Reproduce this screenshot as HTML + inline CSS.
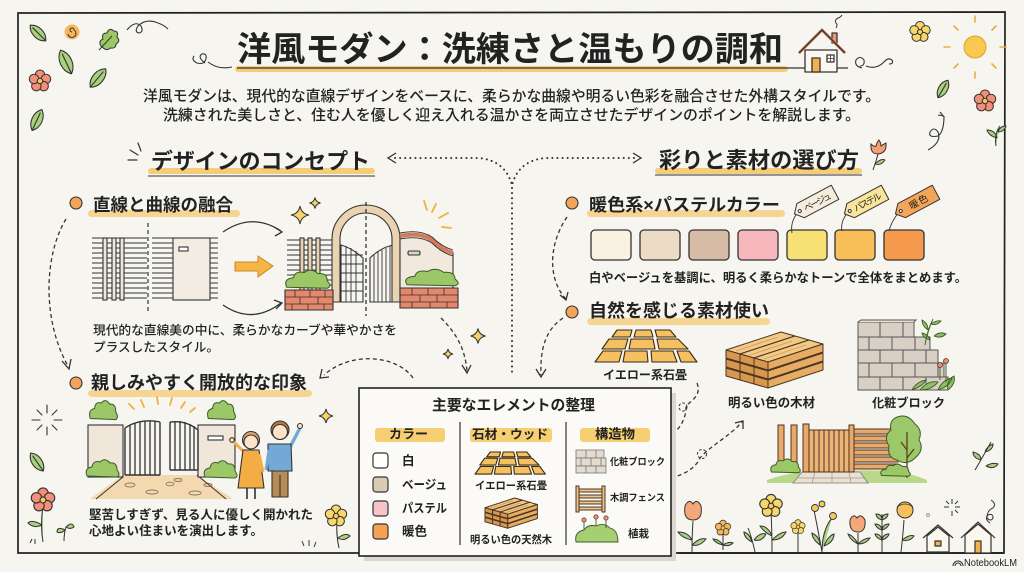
<!DOCTYPE html>
<html><head><meta charset="utf-8">
<style>
html,body{margin:0;padding:0;background:#f6f5f0;}
svg{display:block}
text{font-family:"Liberation Sans","Noto Sans CJK JP",sans-serif;fill:#222;}
.b{font-weight:700}
.m{font-weight:500}
</style></head><body>
<svg width="1024" height="572" viewBox="0 0 1024 572" xmlns="http://www.w3.org/2000/svg">
<defs>
 <g id="fl" stroke="#333" stroke-width="1"><circle cx="0" cy="-6" r="4.5"/><circle cx="5.7" cy="-1.9" r="4.5"/><circle cx="3.5" cy="4.9" r="4.5"/><circle cx="-3.5" cy="4.9" r="4.5"/><circle cx="-5.7" cy="-1.9" r="4.5"/><circle r="2.6" fill="#f7c95c"/></g>
 <path id="lf" d="M0,-10 C6,-5 6,5 0,10 C-6,5 -6,-5 0,-10Z M0,-7 L0,10" stroke="#333" stroke-width="1.1" vector-effect="non-scaling-stroke"/>
 <path id="st" d="M0,-10 Q1.5,-1.5 10,0 Q1.5,1.5 0,10 Q-1.5,1.5 -10,0 Q-1.5,-1.5 0,-10Z" stroke="#333" stroke-width="1" vector-effect="non-scaling-stroke"/>
 <path id="bu" d="M-15,5 Q-18,-3 -10,-4 Q-9,-11 -2,-9 Q3,-14 8,-8 Q15,-9 15,-1 Q19,4 15,6 Z" fill="#9cc766" stroke="#3d5a2a" stroke-width="1" vector-effect="non-scaling-stroke"/>
 <g id="pk" stroke="#4a3520" stroke-width="1" stroke-linejoin="round">
  <polygon points="0,0 55,-18 69,-14 14,4" fill="#f2c987" vector-effect="non-scaling-stroke"/>
  <polygon points="14,4 69,-14 69,-6 14,12" fill="#e6ac63" vector-effect="non-scaling-stroke"/>
  <polygon points="0,0 14,4 14,12 0,8" fill="#d8974e" vector-effect="non-scaling-stroke"/>
  <path d="M10,1 L52,-13" stroke="#c08a4a" stroke-width="0.6" vector-effect="non-scaling-stroke"/>
 </g>
 <g id="stones" fill="#f4c062" stroke="#3a2a10" stroke-width="1.1" stroke-linejoin="round">
  <polygon points="612,337 617,330 632,330 630,337" vector-effect="non-scaling-stroke"/>
  <polygon points="634,337 636,330 651,330 653,337" vector-effect="non-scaling-stroke"/>
  <polygon points="657,337 655,330 670,330 676,337" vector-effect="non-scaling-stroke"/>
  <polygon points="602,349 609,339 628,339 625,349" vector-effect="non-scaling-stroke"/>
  <polygon points="629,349 631,339 653,339 655,349" vector-effect="non-scaling-stroke"/>
  <polygon points="659,349 657,339 678,339 688,349" vector-effect="non-scaling-stroke"/>
  <polygon points="595,362 603,351 622,351 619,362" vector-effect="non-scaling-stroke"/>
  <polygon points="623,362 625,351 647,351 648,362" vector-effect="non-scaling-stroke"/>
  <polygon points="652,362 651,351 673,351 677,362" vector-effect="non-scaling-stroke"/>
  <polygon points="681,362 677,351 689,351 697,362" vector-effect="non-scaling-stroke"/>
 </g>
 <g id="wood">
  <use href="#pk" transform="translate(726,368)"/><use href="#pk" transform="translate(740,372)"/><use href="#pk" transform="translate(754,376)"/>
  <use href="#pk" transform="translate(726,359)"/><use href="#pk" transform="translate(740,363)"/><use href="#pk" transform="translate(754,367)"/>
  <use href="#pk" transform="translate(726,350)"/><use href="#pk" transform="translate(740,354)"/><use href="#pk" transform="translate(754,358)"/>
 </g>
</defs>

<rect width="1024" height="572" fill="#f6f5f0"/>
<path d="M18 13 L1005 12 L1004 553 L18 553 Z" fill="none" stroke="#222" stroke-width="1.7"/>

<!-- top-left decorations -->
<use href="#lf" transform="translate(38,33) rotate(-45) scale(1.1)" fill="#a9cf7f"/>
<circle cx="72" cy="32" r="7.5" fill="#f7b55c"/>
<path d="M72,32 a2,2 0 1 1 2,-2 a4,4 0 1 1 -6,4" fill="none" stroke="#333" stroke-width="1"/>
<path d="M101,46 q-3,-5 2,-7 q-2,-6 4,-6 q2,-6 7,-2 q5,0 3,6 q4,4 -1,7 q0,5 -6,4 q-3,4 -9,-2z M99,50 L112,36" fill="#9cc766" stroke="#333" stroke-width="1"/>
<path d="M127,30 q8,-10 14,-4 q3,6 -2,7 q-5,-1 -1,-7 q8,-8 20,-3 q6,2 10,6" fill="none" stroke="#333" stroke-width="1.1"/>
<use href="#lf" transform="translate(66,62) rotate(-25) scale(1.3)" fill="#a9cf7f"/>
<use href="#fl" transform="translate(40,81) scale(1.05)" fill="#f28f78"/>
<use href="#lf" transform="translate(98,78) rotate(40) scale(1.2)" fill="#a9cf7f"/>
<use href="#lf" transform="translate(37,120) rotate(25) scale(1.15)" fill="#a9cf7f"/>
<path d="M205,63 q-8,-6 -3,-9 q5,-1 4,5 q-2,6 -9,4 q-6,-3 -3,-7" fill="none" stroke="#333" stroke-width="1.1"/>
<path d="M208,62 q10,8 24,5" fill="none" stroke="#333" stroke-width="1.1"/>

<!-- title -->
<rect x="235" y="66" width="553" height="6" rx="3" fill="#f5cd78"/>
<path d="M237,68 L848,68" stroke="#333" stroke-width="1.2"/>
<text x="237" y="61" font-size="34" class="b" textLength="546" lengthAdjust="spacingAndGlyphs">洋風モダン：洗練さと温もりの調和</text>

<!-- house -->
<g stroke="#333" stroke-width="1.3" stroke-linejoin="round">
 <rect x="805" y="50" width="32" height="22" fill="#fbf7ee"/>
 <rect x="832" y="33" width="5" height="10" fill="#e89a7a"/>
 <path d="M799,53 L822,30 L845,53" fill="none" stroke="#d9805e" stroke-width="3"/>
 <path d="M799,53 L822,30 L845,53" fill="none"/>
 <rect x="812" y="58" width="8" height="14" fill="#f4b04a"/>
 <rect x="827" y="55" width="7" height="7" fill="#fff"/>
 <path d="M830.5,55 v7 M827,58.5 h7" stroke-width="0.8"/>
 <path d="M836,28 q2,-3 0,-5 q-2,-3 2,-5 q3,-1 4,-3" fill="none" stroke-width="1"/>
</g>
<path d="M862,68 q-8,-2 -6,-8 q4,-5 8,0 q1,6 -4,6 M866,66 q10,4 18,-4 q4,-5 8,-2 q2,4 -3,4" fill="none" stroke="#333" stroke-width="1.1"/>

<!-- top-right decorations -->
<use href="#fl" transform="translate(920,32) scale(1)" fill="#f7d66a"/>
<g stroke="#e8b040" stroke-width="1.6" stroke-linecap="round">
 <path d="M975,22 v-6 M975,72 v6 M950,47 h-6 M1000,47 h6 M958,30 l-4,-4 M992,30 l4,-4 M958,64 l-4,4 M992,64 l4,4"/>
</g>
<circle cx="975" cy="47" r="11" fill="#f8c850" stroke="#e0a030" stroke-width="1"/>
<use href="#lf" transform="translate(943,89) rotate(30)" fill="#a9cf7f"/>
<use href="#fl" transform="translate(985,101) scale(1.05)" fill="#f28f78"/>
<path d="M928,150 q14,-8 10,-18 q-4,-6 -8,0 q-2,6 8,4 q6,-4 6,-20 M940,112 l4,5 M944,116 l-6,-1" fill="none" stroke="#333" stroke-width="1.1"/>
<path d="M996,146 q-2,-12 4,-20 M997,138 q-8,-2 -10,-8 q8,0 10,8 M998,132 q2,-6 8,-6 q-2,6 -8,6" fill="#a9cf7f" stroke="#333" stroke-width="1"/>

<!-- subtitle -->
<text x="143" y="101" font-size="14.7" class="m" fill="#2a2a2a" textLength="737" lengthAdjust="spacingAndGlyphs">洋風モダンは、現代的な直線デザインをベースに、柔らかな曲線や明るい色彩を融合させた外構スタイルです。</text>
<text x="163" y="120" font-size="14.7" class="m" fill="#2a2a2a" textLength="697" lengthAdjust="spacingAndGlyphs">洗練された美しさと、住む人を優しく迎え入れる温かさを両立させたデザインのポイントを解説します。</text>

<!-- section headings -->
<rect x="148" y="168" width="227" height="6" rx="3" fill="#f5cd78"/>
<path d="M148,176 L375,176" stroke="#333" stroke-width="1"/>
<text x="151" y="169" font-size="22" class="b" textLength="219" lengthAdjust="spacingAndGlyphs">デザインのコンセプト</text>
<path d="M138,143 l3,8 M130,150 l8,5 M128,160 l9,0" stroke="#333" stroke-width="1.2" stroke-linecap="round"/>

<rect x="655" y="168" width="207" height="6" rx="3" fill="#f5cd78"/>
<path d="M655,175 L862,175" stroke="#333" stroke-width="1"/>
<text x="659" y="168" font-size="22" class="b" textLength="200" lengthAdjust="spacingAndGlyphs">彩りと素材の選び方</text>
<path d="M873,170 q3,-8 5,-16 M878,154 q-8,0 -7,-10 q3,3 5,2 q1,-4 3,-6 q2,3 2,6 q3,-2 5,-3 q1,10 -8,11z" fill="#f2a070" stroke="#333" stroke-width="1"/>
<path d="M875,164 q6,-6 10,-4 q-4,6 -10,4z" fill="#a9cf7f" stroke="#333" stroke-width="0.9"/>

<!-- top dotted connectors -->
<g fill="none" stroke="#333" stroke-width="2" stroke-dasharray="0.1 5" stroke-linecap="round">
 <path d="M395,158 L478,158 Q505,160 512,185 L512,373"/>
 <path d="M634,158 L546,158 Q519,160 512,185"/>
</g>
<path d="M396,153 L388,158 L396,163 M633,153 L641,158 L633,163" fill="none" stroke="#333" stroke-width="1.3"/>

<!-- LEFT: 直線と曲線の融合 -->
<rect x="88" y="210" width="152" height="7" rx="3.5" fill="#f6d592"/>
<circle cx="76" cy="203" r="6" fill="#f0a55a" stroke="#333" stroke-width="1.1"/>
<text x="93" y="211" font-size="17.5" class="b" textLength="140" lengthAdjust="spacingAndGlyphs">直線と曲線の融合</text>

<g stroke="#333" stroke-width="1.1">
 <path d="M92,238H147M92,243H147M92,248H147M92,253H147M92,258H147M92,263H147M92,268H147M92,273H147M92,278H147M92,283H147M92,288H147M92,293H147M92,298H147 M152,238H218M152,243H218M152,248H218M152,253H218M152,258H218M152,263H218M152,268H218M152,273H218M152,278H218M152,283H218M152,288H218M152,293H218M152,298H218"/>
 <rect x="103" y="238" width="4" height="62" fill="#efe6da"/>
 <rect x="112" y="238" width="4" height="62" fill="#efe6da"/>
 <rect x="120" y="238" width="4" height="62" fill="#efe6da"/>
 <rect x="173" y="238" width="37" height="62" fill="#f3ece2"/>
 <rect x="179" y="247" width="9" height="4" fill="#fff"/>
</g>
<path d="M148,223 L148,313" stroke="#333" stroke-width="1.2" stroke-dasharray="4 3"/>
<path d="M223,232 Q252,212 281,231 M223,305 Q252,325 281,303" fill="none" stroke="#333" stroke-width="1.3"/>
<path d="M274,227 L282,232 L275,236 M274,300 L282,303 L276,309" fill="none" stroke="#333" stroke-width="1.3"/>
<path d="M235,262 L258,262 L258,256 L273,266 L258,277 L258,271 L235,271 Z" fill="#f6b544" stroke="#c98a20" stroke-width="1"/>

<!-- arch illustration -->
<g stroke="#333" stroke-width="1.1">
 <path d="M287,240H333M287,245H333M287,250H333M287,255H333M287,260H333M287,265H333M287,270H333M287,275H333M287,280H333M287,285H333M287,290H333M287,295H333M287,300H333"/>
 <rect x="300" y="238" width="4" height="62" fill="#e9d2b0"/>
 <rect x="308" y="238" width="4" height="62" fill="#e9d2b0"/>
 <rect x="316" y="238" width="4" height="62" fill="#e9d2b0"/>
 <path d="M341,245 Q352,248 363,258 L363,302 L341,302 Z" fill="#f6f5f0"/>
 <path d="M346,246V302M351,248V302M356,251V302M341,255H363M341,264H363M341,273H363M341,282H363M341,291H363" stroke-width="0.9"/>
 <path d="M370,258 Q380,248 393,245 L393,302 L370,302 Z" fill="#f6f5f0"/>
 <path d="M374,255V302M378,252V302M382,250V302M386,248V302M390,246V302" stroke-width="0.9"/>
 <path d="M332,302 L332,239 A34,34 0 0 1 400,239 L400,302 L392,302 L392,239 A26,26 0 0 0 340,239 L340,302 Z" fill="#ead3b2" stroke-linejoin="round"/>
 <path d="M400,236 Q420,232 432,240 Q442,250 453,253 L453,292 L400,292 Z" fill="#f1e9de"/>
 <path d="M400,236 Q420,232 432,240 Q442,250 453,253" fill="none" stroke="#d47a5a" stroke-width="4"/>
 <path d="M400,233 Q420,229 432,237 Q442,247 453,250 M400,239 Q420,235 432,243 Q442,253 453,256" fill="none" stroke-width="0.9"/>
 <rect x="408" y="251" width="12" height="4" rx="1.5" fill="#d8d2ca"/>
 <path d="M285,290 L333,290 L333,310 L285,310 Z" fill="#e5876a"/>
 <path d="M285,297H333M285,304H333M295,290V297M310,290V297M325,290V297M300,297V304M318,297V304M292,304V310M308,304V310M324,304V310" stroke-width="0.8"/>
 <path d="M400,288 L458,288 L458,308 L400,308 Z" fill="#e5876a"/>
 <path d="M400,295H458M400,302H458M412,288V295M428,288V295M444,288V295M420,295V302M437,295V302M412,302V308M430,302V308M447,302V308" stroke-width="0.8"/>
</g>
<use href="#bu" transform="translate(307,282) scale(1.35,1.05)"/>
<use href="#bu" transform="translate(431,280) scale(1.6,0.95)"/>
<path d="M366,202 L366,316" stroke="#333" stroke-width="1.3" stroke-dasharray="4 3"/>
<use href="#st" transform="translate(300,215) scale(0.9)" fill="#f6d36a"/>
<use href="#st" transform="translate(315,203) scale(0.55)" fill="#f6d36a"/>
<path d="M424,201 l3,9 M436,204 l-4,8 M448,213 l-9,5 M451,228 l-9,-1" stroke="#f0b040" stroke-width="1.8" stroke-linecap="round"/>

<text x="93" y="334.5" font-size="12.6" class="m" fill="#6a6a6a" textLength="304" lengthAdjust="spacingAndGlyphs">現代的な直線美の中に、柔らかなカーブや華やかさを</text>
<text x="93" y="351.5" font-size="12.6" class="m" fill="#6a6a6a" textLength="126" lengthAdjust="spacingAndGlyphs">プラスしたスタイル。</text>

<g fill="none" stroke="#333" stroke-width="1.3" stroke-dasharray="4 3">
 <path d="M66,219 C44,255 42,320 68,366"/>
 <path d="M441,318 C458,335 465,350 467,371"/>
 <path d="M413,378 C398,356 352,350 324,375"/>
</g>
<path d="M62,361 L69,369 L71,359 M462,365 L467,373 L471,365 M322,369 L320,378 L329,377" fill="none" stroke="#333" stroke-width="1.3"/>
<use href="#st" transform="translate(478,336) scale(0.75)" fill="#f6d36a"/>
<use href="#st" transform="translate(448,354) scale(0.5)" fill="#f6d36a"/>

<!-- LEFT: 親しみやすく開放的な印象 -->
<rect x="88" y="390" width="224" height="7" rx="3.5" fill="#f6d592"/>
<circle cx="76" cy="383" r="6" fill="#f0a55a" stroke="#333" stroke-width="1.1"/>
<text x="91" y="389" font-size="18" class="b" textLength="216" lengthAdjust="spacingAndGlyphs">親しみやすく開放的な印象</text>

<path d="M123,475 L197,475 L233,499 L90,499 Z" fill="#f4d9b0"/>
<g fill="none" stroke="#8a7a60" stroke-width="0.9">
 <ellipse cx="130" cy="485" rx="5" ry="2"/><ellipse cx="152" cy="492" rx="6" ry="2"/><ellipse cx="170" cy="484" rx="4" ry="1.8"/><ellipse cx="195" cy="493" rx="6" ry="2"/><ellipse cx="178" cy="480" rx="4" ry="1.5"/><ellipse cx="208" cy="485" rx="4" ry="1.5"/>
</g>
<path d="M123,477 L96,499 M197,475 L226,499" stroke="#333" stroke-width="1"/>
<use href="#bu" transform="translate(103,413) scale(0.85,1.1)"/>
<use href="#bu" transform="translate(221,413) scale(0.85,1.1)"/>
<g stroke="#333" stroke-width="1.1">
 <rect x="88" y="425" width="35" height="52" fill="#f1e6da"/>
 <rect x="198" y="425" width="37" height="52" fill="#f1e6da"/>
 <rect x="208" y="436" width="15" height="4" fill="#fff"/>
 <path d="M125,428 Q140,418 160,422 M125,475 L160,475 M125,428 V475 M160,422 V475" fill="none" stroke-width="1.4"/>
 <path d="M130,425V475M135,423V475M140,422V475M145,421V475M150,421V475M155,421V475" fill="none" stroke-width="1.3"/>
 <path d="M170,422 Q186,420 198,430 M170,470 L198,470 M170,422 V470 M198,430 V470" fill="none" stroke-width="1.4"/>
 <path d="M175,421V470M180,421V470M185,422V470M190,424V470M194,426V470" fill="none" stroke-width="1.3"/>
</g>
<use href="#bu" transform="translate(102,471) scale(1,1)"/>
<use href="#bu" transform="translate(220,472) scale(1,1)"/>
<path d="M129,404 l5,5 M141,400 l3,7 M157,397 l1,7 M172,398 l-2,7 M185,402 l-4,6 M195,408 l-5,4" stroke="#f0b040" stroke-width="1.8" stroke-linecap="round"/>
<g stroke="#333" stroke-width="1.1" stroke-linejoin="round">
 <path d="M244,452 L233,441" fill="none" stroke-width="3" stroke="#f4ad45"/>
 <circle cx="232" cy="440" r="2.3" fill="#fde3c8"/>
 <path d="M243,450 L259,450 L264,488 L238,488 Z" fill="#f4ad45"/>
 <path d="M259,454 L263,472" fill="none" stroke="#f4ad45" stroke-width="3"/>
 <path d="M247,488 V499 M255,488 V499" stroke="#333" stroke-width="1.6"/>
 <circle cx="251" cy="440" r="8.5" fill="#e3a36a"/>
 <circle cx="251" cy="442" r="7" fill="#fde3c8"/>
</g>
<g stroke="#333" stroke-width="1.1" stroke-linejoin="round">
 <path d="M289,449 L300,428" fill="none" stroke="#74a9d6" stroke-width="3.5"/>
 <circle cx="300" cy="426" r="2.5" fill="#fde3c8"/>
 <rect x="272" y="469" width="16" height="28" fill="#b88a55"/>
 <path d="M280,475 V497" />
 <path d="M268,444 L291,444 L292,471 L268,471 Z" fill="#74a9d6"/>
 <path d="M269,450 L266,470" fill="none" stroke="#74a9d6" stroke-width="3"/>
 <circle cx="280" cy="430" r="9" fill="#b7753f"/>
 <circle cx="280" cy="432" r="7.5" fill="#fde3c8"/>
</g>

<text x="89" y="519" font-size="12.4" class="b" fill="#333" textLength="224" lengthAdjust="spacingAndGlyphs">堅苦しすぎず、見る人に優しく開かれた</text>
<text x="89" y="535" font-size="12.4" class="b" fill="#333" textLength="174" lengthAdjust="spacingAndGlyphs">心地よい住まいを演出します。</text>

<path d="M47,405 v8 M47,427 v8 M32,420 h8 M54,420 h8 M37,410 l5,5 M52,425 l5,5 M57,410 l-5,5 M37,430 l5,-5" stroke="#333" stroke-width="1.1" stroke-linecap="round"/>
<use href="#lf" transform="translate(37,462) rotate(-35) scale(1.1)" fill="#a9cf7f"/>
<path d="M43,506 Q40,525 43,542 M42,525 q-10,-6 -14,-2 q6,6 14,2" fill="#a9cf7f" stroke="#333" stroke-width="1"/>
<use href="#fl" transform="translate(43,500) scale(1.15)" fill="#f28f78"/>
<path d="M64,541 q0,-8 2,-14 M65,530 q-8,-4 -8,2 q4,2 8,-2 M66,527 q6,-6 8,0 q-4,3 -8,0" fill="#a9cf7f" stroke="#333" stroke-width="1"/>
<path d="M30,543 l2,-4 M35,544 l0,-5" stroke="#333" stroke-width="1"/>
<use href="#st" transform="translate(326,416) scale(0.7)" fill="#f6d36a"/>
<path d="M337,522 Q336,535 339,548 M338,538 q8,-6 12,-2 q-6,6 -12,2" fill="#a9cf7f" stroke="#333" stroke-width="1"/>
<use href="#fl" transform="translate(336,516) scale(1.05)" fill="#f7d66a"/>
<path d="M304,546 l-2,-5 M309,546 l0,-6 M314,547 l2,-5" stroke="#333" stroke-width="1"/>

<!-- RIGHT: 暖色系×パステルカラー -->
<rect x="587" y="210" width="198" height="7" rx="3.5" fill="#f6d592"/>
<circle cx="572" cy="203" r="6" fill="#f0a55a" stroke="#333" stroke-width="1.1"/>
<text x="589" y="211" font-size="17.5" class="b" textLength="191" lengthAdjust="spacingAndGlyphs">暖色系×パステルカラー</text>

<g stroke="#333" stroke-width="1.3">
 <rect x="591" y="230" width="40" height="30" rx="4" fill="#faf1e2"/>
 <rect x="640" y="230" width="40" height="30" rx="4" fill="#ecdcc6"/>
 <rect x="689" y="230" width="40" height="30" rx="4" fill="#d6bba6"/>
 <rect x="738" y="230" width="40" height="30" rx="4" fill="#f6b7bd"/>
 <rect x="787" y="230" width="40" height="30" rx="4" fill="#f8e174"/>
 <rect x="835" y="230" width="40" height="30" rx="4" fill="#f9c05a"/>
 <rect x="884" y="230" width="40" height="30" rx="4" fill="#f59a4c"/>
</g>
<g fill="none" stroke="#333" stroke-width="0.9">
 <path d="M798,212 Q790,222 792,233"/>
 <path d="M848,212 Q840,222 842,231"/>
 <path d="M899,212 Q891,222 889,231"/>
</g>
<g stroke="#333" stroke-width="1" stroke-linejoin="round">
 <g transform="translate(798,212) rotate(-28)"><polygon points="-4,0 3,-8 42,-8 42,8 3,8" fill="#f6ecdc"/><circle cx="2" cy="0" r="1.5" fill="#fff"/><text x="7" y="3.5" font-size="9" stroke="none" textLength="30">ベージュ</text></g>
 <g transform="translate(848,212) rotate(-28)"><polygon points="-4,0 3,-8 42,-8 42,8 3,8" fill="#f8e49a"/><circle cx="2" cy="0" r="1.5" fill="#fff"/><text x="7" y="3.5" font-size="9" stroke="none" textLength="30">パステル</text></g>
 <g transform="translate(899,212) rotate(-28)"><polygon points="-4,0 3,-8 42,-8 42,8 3,8" fill="#f5a558"/><circle cx="2" cy="0" r="1.5" fill="#fff"/><text x="12" y="3.5" font-size="9.5" stroke="none" textLength="20">暖色</text></g>
</g>
<text x="589" y="282" font-size="12.3" class="b" fill="#333" textLength="378" lengthAdjust="spacingAndGlyphs">白やベージュを基調に、明るく柔らかなトーンで全体をまとめます。</text>

<g fill="none" stroke="#333" stroke-width="1.3" stroke-dasharray="4 3">
 <path d="M567,217 C548,245 548,280 566,299"/>
 <path d="M563,318 C545,330 540,350 541,375"/>
 <path d="M697,383 C703,398 686,402 686,408 C686,418 680,432 664,439"/>
 <path d="M664,479 C682,477 696,468 700,458 C710,446 730,436 742,422"/>
</g>
<g fill="none" stroke="#333" stroke-width="1" stroke-dasharray="2.5 2">
 <circle cx="683" cy="407" r="4"/>
 <circle cx="702" cy="454" r="4.5"/>
</g>
<path d="M560,295 L566,300 L568,292 M536,369 L541,377 L546,369 M671,435 L663,440 L671,444 M735,423 L743,421 L743,429" fill="none" stroke="#333" stroke-width="1.3"/>

<!-- RIGHT: 自然を感じる素材使い -->
<rect x="587" y="318" width="183" height="7" rx="3.5" fill="#f6d592"/>
<circle cx="572" cy="312" r="6" fill="#f0a55a" stroke="#333" stroke-width="1.1"/>
<text x="589" y="317" font-size="18" class="b" textLength="180" lengthAdjust="spacingAndGlyphs">自然を感じる素材使い</text>

<use href="#stones"/>
<text x="603" y="379" font-size="12" class="b" textLength="84" lengthAdjust="spacingAndGlyphs">イエロー系石畳</text>
<use href="#wood"/>
<text x="728" y="407" font-size="12.4" class="b" textLength="87" lengthAdjust="spacingAndGlyphs">明るい色の木材</text>

<g fill="#d9d0c5" stroke="#555" stroke-width="1">
 <rect x="858" y="322" width="56" height="15"/>
 <rect x="858" y="337" width="72" height="13"/>
 <rect x="858" y="350" width="80" height="13"/>
 <rect x="858" y="363" width="86" height="14"/>
 <rect x="858" y="377" width="90" height="13"/>
 <path d="M880,322V337M903,322V337M869,337V350M892,337V350M915,337V350M880,350V363M903,350V363M926,350V363M869,363V377M892,363V377M915,363V377M938,363V377M880,377V390M903,377V390M926,377V390" fill="none"/>
 <path d="M858,322 l3,-2 h55 l-2,2" fill="#e8e1d8"/>
</g>
<g fill="#8fbf60" stroke="#3d5a2a" stroke-width="0.9">
 <path d="M925,345 q2,-14 8,-26 M928,330 q-6,-4 -6,-10 q6,3 6,10 M931,324 q5,-4 10,-3 q-4,5 -10,3 M934,336 q6,-5 12,-2 q-5,5 -12,2 M930,340 q-7,-2 -8,-7 q6,1 8,7" />
 <path d="M912,390 q4,-8 14,-10 q-3,6 -14,10 M920,390 q8,-10 18,-8 q-6,8 -18,8 M938,390 q4,-10 14,-12 q-2,8 -14,12 M948,390 q-2,-10 6,-14 q2,8 -6,14"/>
 <path d="M940,380 V366 M946,382 V362" fill="none"/>
</g>
<circle cx="940" cy="365" r="2.5" fill="#f08a6a" stroke="#333" stroke-width="0.7"/>
<circle cx="946" cy="361" r="2.5" fill="#f08a6a" stroke="#333" stroke-width="0.7"/>
<text x="872" y="407" font-size="12.2" class="b" textLength="73" lengthAdjust="spacingAndGlyphs">化粧ブロック</text>

<path d="M767,480 Q800,468 850,471 Q900,468 927,480 L927,483 L767,483 Z" fill="#b9d98a"/>
<path d="M793,483 L802,472 L860,472 L868,483 Z" fill="#ece1d0" stroke="#777" stroke-width="0.8"/>
<path d="M798,478 H864 M815,472 L812,483 M832,472 L832,483 M849,472 L851,483" stroke="#999" stroke-width="0.7"/>
<g stroke="#4a3520" stroke-width="1" fill="#e9a96a">
 <rect x="778" y="425" width="6" height="47"/>
 <rect x="791" y="425" width="6" height="47"/>
 <rect x="803" y="424" width="6" height="48"/>
 <rect x="809" y="430" width="40" height="42" fill="#eeb477"/>
 <path d="M814,430V472M819,430V472M824,430V472M829,430V472M834,430V472M839,430V472M844,430V472" fill="none"/>
 <rect x="849" y="425" width="5" height="47"/>
 <rect x="854" y="429" width="44" height="5"/>
 <rect x="854" y="436" width="44" height="5"/>
 <rect x="854" y="443" width="44" height="5"/>
 <rect x="854" y="450" width="44" height="5"/>
 <rect x="854" y="457" width="44" height="5"/>
 <rect x="854" y="464" width="44" height="5"/>
</g>
<path d="M895,418 q12,-6 20,6 q8,6 4,16 q6,10 -4,18 q-8,8 -18,2 q-10,-2 -8,-14 q-6,-10 2,-16 q-2,-8 4,-12z" fill="#9cc86a" stroke="#3d5a2a" stroke-width="1"/>
<path d="M907,478 V432 M907,450 l-6,-8 M907,458 l7,-9" stroke="#5a4020" stroke-width="1.3" fill="none"/>
<use href="#bu" transform="translate(785,468) scale(0.9,0.8)"/>
<use href="#bu" transform="translate(895,472) scale(0.9,0.7)"/>

<path d="M678,553 L1004,553" stroke="#222" stroke-width="1.7"/>
<g stroke="#333" stroke-width="1" fill="#a9cf7f">
 <path d="M693,521 Q692,535 692,552 M692,540 q-10,-2 -14,-8 q10,0 14,8 M692,545 q8,-8 14,-6 q-6,8 -14,6"/>
 <path d="M723,533 V550 M723,545 q-8,-2 -10,-6 q6,0 10,6 M723,545 q6,-4 10,-2 q-4,4 -10,2"/>
 <path d="M755,552 Q752,538 748,528 M752,542 q-8,-4 -8,-10 q6,2 8,10 M754,540 q6,-8 12,-6 q-4,8 -12,6"/>
 <path d="M771,512 Q772,530 772,552 M772,536 q-8,-4 -12,-10 q8,0 12,10 M772,540 q8,-8 14,-8 q-4,8 -14,8"/>
 <path d="M798,532 V552"/>
 <path d="M822,552 Q818,530 814,510 M822,552 Q822,530 832,518 M820,545 q-8,-6 -8,-12 q8,4 8,12 M824,546 q4,-10 10,-12 q0,8 -10,12"/>
 <path d="M858,533 V552 M858,544 q-8,-4 -10,-10 q6,2 10,10 M858,544 q6,-6 12,-6 q-4,6 -12,6"/>
 <path d="M882,552 V514 M882,520 q-6,-2 -6,-6 q6,0 6,6 M882,520 q6,-2 6,-6 q-6,0 -6,6 M882,530 q-6,-2 -7,-6 q6,0 7,6 M882,530 q6,-2 7,-6 q-6,0 -7,6 M882,540 q-6,-2 -7,-6 q6,0 7,6 M882,540 q6,-2 7,-6 q-6,0 -7,6"/>
 <path d="M904,520 Q903,535 901,552 M902,540 q8,-6 12,-4 q-4,6 -12,4"/>
</g>
<path d="M685,506 q4,-8 8,-2 q4,-6 8,2 q2,14 -8,14 q-10,0 -8,-14z" fill="#f4a87a" stroke="#333" stroke-width="1"/>
<use href="#fl" transform="translate(723,528) scale(0.75)" fill="#f6b65c"/>
<use href="#fl" transform="translate(771,506) scale(1.1)" fill="#f7d66a"/>
<use href="#fl" transform="translate(798,527) scale(0.7)" fill="#f7d66a"/>
<circle cx="815" cy="508" r="3.5" fill="#f7c95c" stroke="#333" stroke-width="0.9"/>
<circle cx="833" cy="516" r="3.5" fill="#f7c95c" stroke="#333" stroke-width="0.9"/>
<circle cx="822" cy="504" r="3" fill="#f7c95c" stroke="#333" stroke-width="0.9"/>
<path d="M850,520 q3,-7 7,-2 q4,-5 8,2 q1,12 -7,12 q-9,0 -8,-12z" fill="#f4a87a" stroke="#333" stroke-width="1"/>
<circle cx="905" cy="510" r="8" fill="#f7c05a" stroke="#333" stroke-width="1"/>
<path d="M897,507 q8,-6 16,0" fill="none" stroke="#333" stroke-width="0.8"/>
<path d="M952,499 v5 M952,511 v5 M944,507 h5 M955,507 h5 M946,501 l3,3 M958,513 l-3,-3 M958,501 l-3,3" stroke="#333" stroke-width="1"/>
<circle cx="928" cy="515" r="1.5" fill="none" stroke="#999"/>
<g stroke="#333" stroke-width="1.2" fill="#fbf7ee" stroke-linejoin="round">
 <path d="M927,536 L938,527 L949,536 L949,552 L927,552 Z"/>
 <path d="M923,538 L938,525 L953,538" fill="none"/>
 <rect x="935" y="541" width="6" height="5" fill="#f4b04a"/>
 <path d="M965,535 L978,524 L991,535 L991,553 L965,553 Z"/>
 <path d="M961,538 L978,522 L995,538" fill="none"/>
 <rect x="975" y="541" width="6" height="12" fill="#f4b04a"/>
</g>
<path d="M990,523 q-6,-4 -2,-8 q5,-2 5,3 q-2,4 -6,0 q0,-8 6,-10 q4,-4 -2,-8" fill="none" stroke="#333" stroke-width="1"/>
<path d="M975,470 q6,-10 16,-28 M981,460 q-8,-2 -8,-8 q8,2 8,8 M985,452 q2,-6 8,-8 q0,6 -8,8 M986,466 q6,-4 12,-2 q-4,6 -12,2" fill="#a9cf7f" stroke="#333" stroke-width="1"/>

<path d="M953,566 a5,5 0 0 1 10,0 M955,566 a3,3 0 0 1 6,0" fill="none" stroke="#333" stroke-width="1.1"/>
<text x="964" y="566" font-size="10.5" fill="#333" textLength="53" lengthAdjust="spacingAndGlyphs">NotebookLM</text>

<!-- CENTER BOX -->
<rect x="364" y="393" width="312" height="168" fill="#d9d7d0"/>
<rect x="359" y="388" width="312" height="168" fill="#fbfaf6" stroke="#222" stroke-width="1.6"/>
<text x="432" y="410" font-size="15" class="b" textLength="163" lengthAdjust="spacingAndGlyphs">主要なエレメントの整理</text>
<rect x="375" y="428" width="70" height="14" rx="3" fill="#f6cf72"/>
<rect x="470" y="428" width="82" height="14" rx="3" fill="#f6cf72"/>
<rect x="580" y="428" width="70" height="14" rx="3" fill="#f6cf72"/>
<text x="389" y="438.5" font-size="13" class="b" textLength="39" lengthAdjust="spacingAndGlyphs">カラー</text>
<text x="472" y="438.5" font-size="12.7" class="b" textLength="76" lengthAdjust="spacingAndGlyphs">石材・ウッド</text>
<text x="595" y="438.5" font-size="13" class="b" textLength="40" lengthAdjust="spacingAndGlyphs">構造物</text>
<path d="M460,422 V545 M566,422 V545" stroke="#333" stroke-width="1.2"/>
<g stroke="#333" stroke-width="1.2">
 <rect x="373" y="453" width="15" height="15" rx="3" fill="#ffffff"/>
 <rect x="373" y="477" width="15" height="15" rx="3" fill="#dccbb3"/>
 <rect x="373" y="501" width="15" height="15" rx="3" fill="#f6c3c8"/>
 <rect x="373" y="524" width="15" height="15" rx="3" fill="#f5a052"/>
</g>
<text x="402" y="465" font-size="12.5" class="b">白</text>
<text x="402" y="489" font-size="12.5" class="b" textLength="45" lengthAdjust="spacingAndGlyphs">ベージュ</text>
<text x="402" y="512.5" font-size="12.5" class="b" textLength="45" lengthAdjust="spacingAndGlyphs">パステル</text>
<text x="402" y="535.5" font-size="12.5" class="b" textLength="25" lengthAdjust="spacingAndGlyphs">暖色</text>
<use href="#stones" transform="translate(475,452) scale(0.69) translate(-595,-330)"/>
<text x="475" y="489" font-size="10.5" class="b" textLength="72" lengthAdjust="spacingAndGlyphs">イエロー系石畳</text>
<use href="#wood" transform="translate(485,498) scale(0.54) translate(-726,-332)"/>
<text x="470" y="543" font-size="10.5" class="b" textLength="82" lengthAdjust="spacingAndGlyphs">明るい色の天然木</text>
<g fill="#e3dbd0" stroke="#777" stroke-width="0.8">
 <rect x="576" y="450" width="28" height="8"/><rect x="576" y="458" width="30" height="8"/><rect x="576" y="466" width="30" height="7"/>
 <path d="M586,450V458M596,450V458M581,458V466M591,458V466M601,458V466M586,466V473M596,466V473" fill="none"/>
</g>
<text x="610" y="465" font-size="9.5" class="b" textLength="55" lengthAdjust="spacingAndGlyphs">化粧ブロック</text>
<g stroke="#4a3520" stroke-width="1" fill="#efc48c">
 <rect x="576" y="486" width="3" height="26"/><rect x="602" y="486" width="3" height="26"/>
 <rect x="579" y="489" width="23" height="3"/><rect x="579" y="495" width="23" height="3"/><rect x="579" y="501" width="23" height="3"/><rect x="579" y="507" width="23" height="3"/>
</g>
<text x="610" y="501" font-size="9.5" class="b" textLength="55" lengthAdjust="spacingAndGlyphs">木調フェンス</text>
<path d="M576,542 q-2,-10 8,-12 q4,-6 12,-4 q8,-4 14,2 q8,2 8,14 Z" fill="#a6cf72" stroke="#3d5a2a" stroke-width="0.9"/>
<path d="M584,530 V521 M596,526 V518 M606,528 V519" stroke="#3d5a2a" stroke-width="0.9"/>
<circle cx="584" cy="520" r="2.2" fill="#f08a6a" stroke="#333" stroke-width="0.6"/>
<circle cx="596" cy="517" r="2.2" fill="#f08a6a" stroke="#333" stroke-width="0.6"/>
<circle cx="606" cy="518" r="2.2" fill="#f08a6a" stroke="#333" stroke-width="0.6"/>
<text x="628" y="537" font-size="10.5" class="b" textLength="21" lengthAdjust="spacingAndGlyphs">植栽</text>
</svg>
</body></html>
